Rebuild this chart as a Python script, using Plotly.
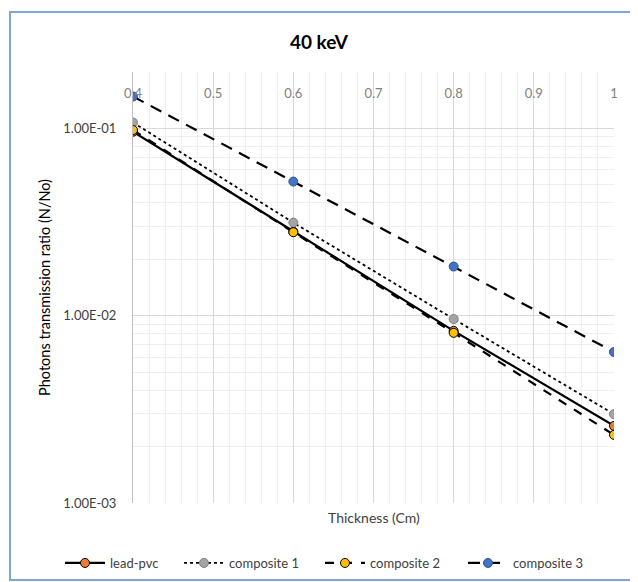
import plotly.graph_objects as go
import numpy as np

thickness = [0.4, 0.6, 0.8, 1.0]
lead_pvc = [0.096, 0.0281, 0.0083, 0.00258]
composite_1 = [0.1075, 0.0314, 0.0096, 0.00298]
composite_2 = [0.098, 0.0279, 0.0081, 0.00231]
composite_3 = [0.148, 0.052, 0.0183, 0.0064]

y_tick_vals = [0.001, 0.01, 0.1]
y_tick_text = ["1.00E-03", "1.00E-02", "1.00E-01"]
x_tick_vals = [0.4, 0.5, 0.6, 0.7, 0.8, 0.9, 1.0]
x_tick_text = ["0.4", "0.5", "0.6", "0.7", "0.8", "0.9", "1"]

FONT = "Lato"
OFF = 8  # page body margin of the html page
W, H = 638 - OFF, 582 - OFF

fig = go.Figure()

fig.add_trace(go.Scatter(x=thickness, y=lead_pvc, name="lead-pvc", mode="lines+markers",
                         legend="legend", showlegend=True,
                         line=dict(color="black", width=2.2),
                         marker=dict(symbol="circle", size=9, color="#ED7D31",
                                     line=dict(color="black", width=1))))
fig.add_trace(go.Scatter(x=thickness, y=composite_1, name="composite 1", mode="lines+markers",
                         legend="legend2", showlegend=True,
                         line=dict(color="black", width=1.8, dash="dot"),
                         marker=dict(symbol="circle", size=9, color="#A5A5A5",
                                     line=dict(color="#7F7F7F", width=1))))
fig.add_trace(go.Scatter(x=thickness, y=composite_2, name="composite 2", mode="lines+markers",
                         legend="legend3", showlegend=True,
                         line=dict(color="black", width=2.2, dash="dash"),
                         marker=dict(symbol="circle", size=9, color="#FFC000",
                                     line=dict(color="black", width=1))))
fig.add_trace(go.Scatter(x=thickness, y=composite_3, name="composite 3", mode="lines+markers",
                         legend="legend4", showlegend=True,
                         line=dict(color="black", width=2.2, dash="12px,8px"),
                         marker=dict(symbol="circle", size=9, color="#4472C4",
                                     line=dict(color="#2F528F", width=1))))

minor_y = [m * 10.0 ** e for e in (-3, -2, -1) for m in range(2, 10) if m * 10.0 ** e <= 0.2]

fig.update_xaxes(range=[0.4, 1.0], side="top", tickvals=x_tick_vals, ticktext=x_tick_text,
                 ticklabelposition="inside", ticklabeloverflow="allow",
                 ticks="inside", ticklen=17, tickcolor="rgba(0,0,0,0)",
                 tickfont=dict(family=FONT, size=13, color="#7F7F7F"),
                 showgrid=True, gridcolor="#D9D9D9", gridwidth=1,
                 minor=dict(dtick=0.02, showgrid=True, gridcolor="#EFEFEF", gridwidth=1),
                 showline=False, zeroline=False, automargin=False)
fig.update_yaxes(type="log", range=[-3, np.log10(0.2)], tickvals=y_tick_vals, ticktext=y_tick_text,
                 tickfont=dict(family=FONT, size=13, color="#404040"),
                 showgrid=True, gridcolor="#D9D9D9", gridwidth=1,
                 minor=dict(tickvals=minor_y, showgrid=True, gridcolor="#EFEFEF", gridwidth=1),
                 showline=True, linecolor="#BFBFBF", linewidth=1, ticks="", ticklen=0,
                 ticklabelstandoff=13,
                 title=dict(text="Photons transmission ratio (N/No)", standoff=9,
                            font=dict(family=FONT, size=14.5, color="black")),
                 zeroline=False, automargin=False)


def leg(px):
    return dict(orientation="h", xref="container", yref="container",
                x=(px - OFF) / W, xanchor="left", y=1 - (563 - OFF) / H, yanchor="middle",
                font=dict(family=FONT, size=13, color="#404040"), itemwidth=40,
                bgcolor="rgba(0,0,0,0)", visible=True)


fig.update_layout(
    width=W, height=H,
    showlegend=True,
    margin=dict(l=133 - OFF, r=24, t=72 - OFF, b=79),
    paper_bgcolor="white", plot_bgcolor="white",
    title=dict(text="<b>40 keV</b>", x=(319 - OFF) / W, xref="container", xanchor="center",
               y=1 - (42 - OFF) / H, yanchor="middle",
               font=dict(family=FONT, size=19, color="black")),
    legend=leg(60), legend2=leg(179), legend3=leg(320), legend4=leg(463),
    annotations=[dict(text="Thickness (Cm)", xref="paper", yref="paper", x=0.5, y=(503 - 517) / 431,
                      xanchor="center", yanchor="middle", showarrow=False,
                      font=dict(family=FONT, size=14, color="#404040"))],
    shapes=[dict(type="rect", xref="paper", yref="paper",
                 x0=(10 - 133) / 481, x1=(636 - 133) / 481,
                 y0=(503 - 580) / 431, y1=(503 - 12) / 431,
                 line=dict(color="#7FA4D6", width=2), fillcolor="rgba(0,0,0,0)", layer="below")],
)

fig.write_html("out.html")
